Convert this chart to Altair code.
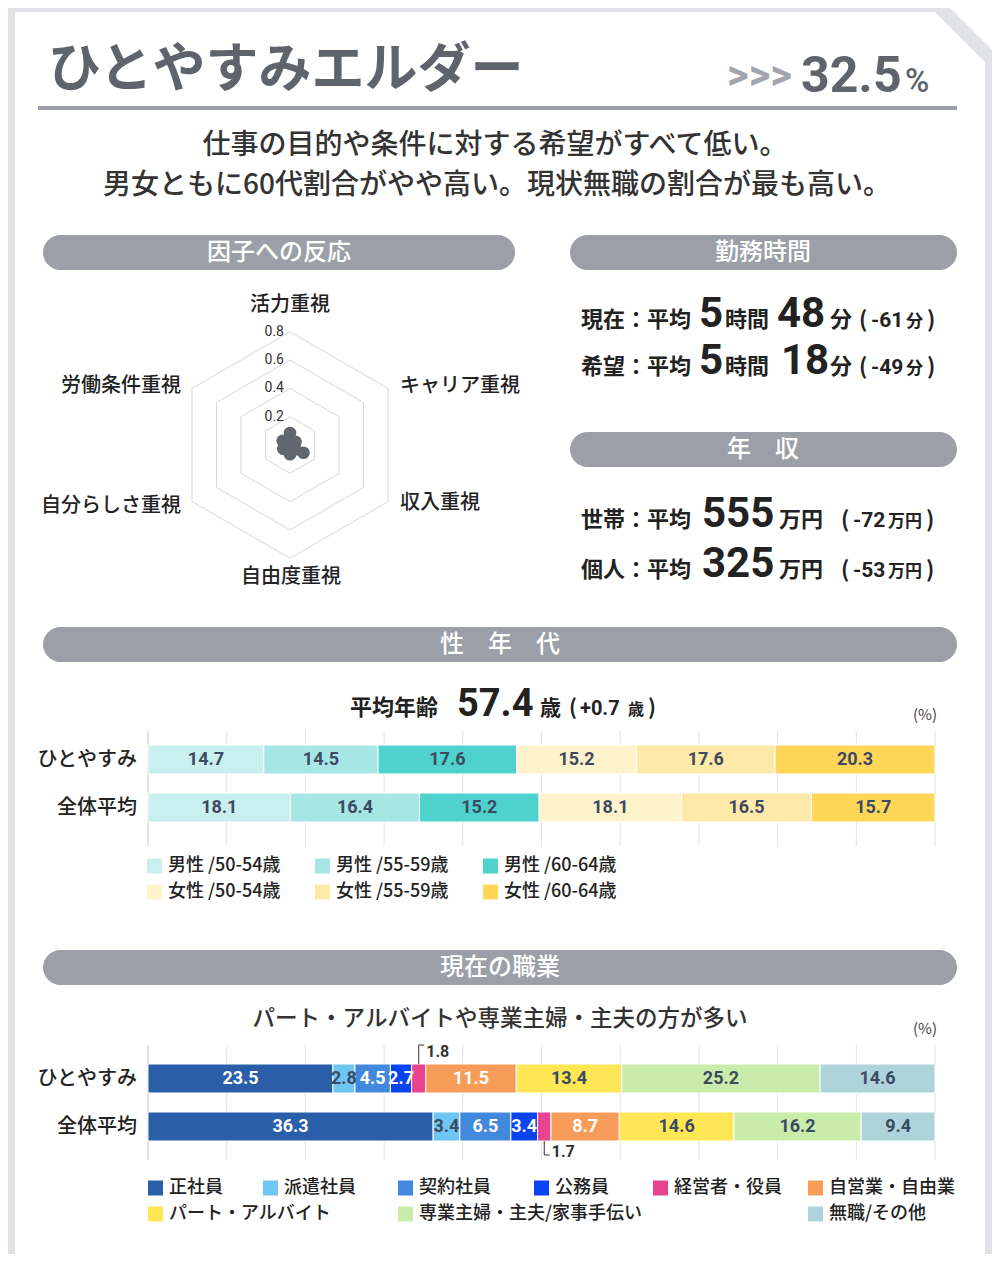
import altair as alt
import pandas as pd

# ---------------- data ----------------
factor_labels = ["活力重視", "キャリア重視", "収入重視", "自由度重視", "自分らしさ重視", "労働条件重視"]
factor_values = [0.085, 0.045, 0.11, 0.065, 0.055, 0.06]
radar_ticks = [0.2, 0.4, 0.6, 0.8]

rows = ["ひとやすみ", "全体平均"]

age_groups = ["男性 /50-54歳", "男性 /55-59歳", "男性 /60-64歳",
              "女性 /50-54歳", "女性 /55-59歳", "女性 /60-64歳"]
age_hito = [14.7, 14.5, 17.6, 15.2, 17.6, 20.3]
age_all = [18.1, 16.4, 15.2, 18.1, 16.5, 15.7]

jobs = ["正社員", "派遣社員", "契約社員", "公務員", "経営者・役員", "自営業・自由業",
        "パート・アルバイト", "専業主婦・主夫/家事手伝い", "無職/その他"]
job_hito = [23.5, 2.8, 4.5, 2.7, 1.8, 11.5, 13.4, 25.2, 14.6]
job_all = [36.3, 3.4, 6.5, 3.4, 1.7, 8.7, 14.6, 16.2, 9.4]

pct_ticks = [0.0, 0.1, 0.2, 0.3, 0.4, 0.5, 0.6, 0.7, 0.8, 0.9, 1.0]

share = "32.5"
work_now = ("5", "48", "-61")
work_wish = ("5", "18", "-49")
income_household = ("555", "-72")
income_personal = ("325", "-53")
avg_age = ("57.4", "+0.7")

# ---------------- styles ----------------
JP = "Noto Sans CJK JP"
NUM = "Roboto"
FRAME = "#e2e3e6"
PILL = "#9c9fa7"
TITLE_C = "#5f636b"
CHEV_C = "#a2a5ac"
INK = "#222222"
LABEL_DARK = "#3c4a62"
DOT = "#62666e"

age_colors = ["#c9f0ee", "#a6e7e5", "#4fd2ce", "#fff3cc", "#ffe9a8", "#ffd658"]
age_text = [LABEL_DARK] * 6
job_colors = ["#2a5ea9", "#6dc6f3", "#4289dd", "#0a44f0", "#e8438f", "#f89d59",
              "#ffe654", "#c9ecab", "#afd3da"]
job_text = ["white", LABEL_DARK, "white", "white", "white", "white",
            LABEL_DARK, LABEL_DARK, LABEL_DARK]

W, H = 984, 1246
M = 8  # page margin


def px(v):
    return v - M


# scales (ranges are layout positions of each panel)
bar_x = alt.Scale(domain=[0, 1], range=[px(148), px(935)], nice=False, zero=False)
age_y = alt.Scale(domain=rows, range=[px(745), px(822)], paddingInner=0.396, paddingOuter=0)
job_y = alt.Scale(domain=rows, range=[px(1064), px(1141)], paddingInner=0.396, paddingOuter=0)
age_yc = alt.Scale(type="point", domain=rows, range=[px(759.5), px(807.5)], padding=0)
job_yc = alt.Scale(type="point", domain=rows, range=[px(1078.5), px(1126.5)], padding=0)
RX, RY, RR = px(290), px(445), 113.2
radar_x = alt.Scale(domain=[-0.8, 0.8], range=[RX - RR, RX + RR], nice=False, zero=False)
radar_y = alt.Scale(domain=[-0.8, 0.8], range=[RY + RR, RY - RR], nice=False, zero=False)

layers = []

# ---------------- frame / decor ----------------
rects = pd.DataFrame([
    dict(x=0, x2=W, y=0, y2=H, fill=FRAME),
    dict(x=px(15), x2=px(985), y=px(12), y2=H, fill="white"),
    dict(x=px(38), x2=px(957), y=px(106), y2=px(110), fill=PILL),
])
layers.append(alt.Chart(rects).mark_rect().encode(
    x=alt.X("x:Q", scale=None), x2="x2:Q", y=alt.Y("y:Q", scale=None), y2="y2:Q",
    color=alt.Color("fill:N", scale=None)))

corner = pd.DataFrame(dict(x=[px(935), px(985)], y0=[0, 0], y1=[px(12), px(62)]))
layers.append(alt.Chart(corner).mark_area(color=FRAME).encode(
    x=alt.X("x:Q", scale=None), y=alt.Y("y0:Q", scale=None), y2="y1:Q"))
corner2 = pd.DataFrame(dict(x=[942, W], y0=[0, 0], y1=[0, W - 942]))
layers.append(alt.Chart(corner2).mark_area(color="white").encode(
    x=alt.X("x:Q", scale=None), y=alt.Y("y0:Q", scale=None), y2="y1:Q"))

pills = pd.DataFrame([
    dict(x=px(43), x2=px(515), y=px(235), y2=px(270)),
    dict(x=px(570), x2=px(957), y=px(235), y2=px(270)),
    dict(x=px(570), x2=px(957), y=px(432), y2=px(467)),
    dict(x=px(43), x2=px(957), y=px(627), y2=px(662)),
    dict(x=px(43), x2=px(957), y=px(950), y2=px(985)),
])
layers.append(alt.Chart(pills).mark_rect(cornerRadius=17.5, color=PILL).encode(
    x=alt.X("x:Q", scale=None), x2="x2:Q", y=alt.Y("y:Q", scale=None), y2="y2:Q"))

# ---------------- radar ----------------
hex_df = pd.DataFrame([dict(level=l, k=k) for l in radar_ticks for k in range(6)])
layers.append(alt.Chart(hex_df).transform_calculate(
    a="datum.k * PI / 3", hx="datum.level * sin(datum.a)", hy="datum.level * cos(datum.a)"
).mark_line(interpolate="linear-closed", color="#d6d6d6", strokeWidth=1).encode(
    x=alt.X("hx:Q", scale=radar_x, axis=None), y=alt.Y("hy:Q", scale=radar_y, axis=None),
    detail="level:N", order="k:Q"))

tick_df = pd.DataFrame(dict(t=radar_ticks))
layers.append(alt.Chart(tick_df).mark_text(align="right", baseline="middle", font=NUM,
                                           fontSize=14, color="#333333").encode(
    x=alt.value(px(284)), y=alt.Y("t:Q", scale=radar_y, axis=None),
    text=alt.Text("t:Q", format=".1f")))

radar_df = pd.DataFrame(dict(label=factor_labels, value=factor_values, k=list(range(6))))
radar_base = alt.Chart(radar_df).transform_calculate(
    a="datum.k * PI / 3", rx="datum.value * sin(datum.a)", ry="datum.value * cos(datum.a)")
layers.append(radar_base.mark_line(interpolate="linear-closed", color=DOT, fill=DOT,
                                   strokeWidth=4).encode(
    x=alt.X("rx:Q", scale=radar_x, axis=None), y=alt.Y("ry:Q", scale=radar_y, axis=None),
    order="k:Q"))
layers.append(radar_base.mark_circle(size=160, color=DOT, opacity=1).encode(
    x=alt.X("rx:Q", scale=radar_x, axis=None), y=alt.Y("ry:Q", scale=radar_y, axis=None)))


# ---------------- stacked bars ----------------
def stack_df(groups, a, b, tcolors):
    recs = []
    for r, vals in zip(rows, [a, b]):
        for i, (g, v) in enumerate(zip(groups, vals)):
            recs.append(dict(row=r, group=g, value=v, order=i, tcolor=tcolors[i]))
    return pd.DataFrame(recs)


def stacked_layers(df, yscale, ycenter, groups, colors, top, bottom):
    out = []
    grid = pd.DataFrame(dict(t=pct_ticks))
    out.append(alt.Chart(grid).mark_rule(strokeWidth=1).encode(
        x=alt.X("t:Q", scale=bar_x, axis=None),
        y=alt.value(px(top)), y2=alt.value(px(bottom)),
        color=alt.condition("datum.t == 0", alt.value("#c4c4c4"), alt.value("#e2e2e2"))))
    base = alt.Chart(df).transform_stack(
        stack="value", groupby=["row"], as_=["v0", "v1"], offset="normalize",
        sort=[alt.SortField("order", order="ascending")]
    ).transform_calculate(mid="(datum.v0 + datum.v1) / 2")
    out.append(base.mark_rect(stroke="white", strokeWidth=1).encode(
        x=alt.X("v0:Q", scale=bar_x, axis=None), x2="v1:Q",
        y=alt.Y("row:N", scale=yscale, axis=None),
        color=alt.Color("group:N", scale=alt.Scale(domain=groups, range=colors), legend=None)))
    out.append(base.transform_filter("datum.value >= 2").mark_text(
        font=NUM, fontWeight="bold", fontSize=18, baseline="middle").encode(
        x=alt.X("mid:Q", scale=bar_x, axis=None),
        y=alt.Y("row:N", scale=ycenter, axis=None),
        text=alt.Text("value:Q", format=".1f"),
        color=alt.Color("tcolor:N", scale=None)))
    out.append(alt.Chart(pd.DataFrame(dict(row=rows))).mark_text(
        align="right", baseline="middle", font=JP, fontSize=20, fontWeight=500, color=INK).encode(
        x=alt.value(px(137)), y=alt.Y("row:N", scale=ycenter, axis=None), text="row:N"))
    return out, base


age_df = stack_df(age_groups, age_hito, age_all, age_text)
age_layers, _ = stacked_layers(age_df, age_y, age_yc, age_groups, age_colors, 731, 846)
layers += age_layers

job_df = stack_df(jobs, job_hito, job_all, job_text)
job_layers, job_base = stacked_layers(job_df, job_y, job_yc, jobs, job_colors, 1045, 1160)
layers += job_layers

# leaders for small segments
LEAD = "#333333"
for rowname, ybar, ystub, ytext in [(rows[0], 1064, 1045, 1052), (rows[1], 1141, 1155, 1152)]:
    lb = job_base.transform_filter(
        f"datum.value < 2 && datum.row == '{rowname}'").transform_calculate(
        stub="datum.mid + 0.007")
    layers.append(lb.mark_rule(color=LEAD, strokeWidth=1).encode(
        x=alt.X("mid:Q", scale=bar_x, axis=None), y=alt.value(px(ystub)), y2=alt.value(px(ybar))))
    layers.append(lb.mark_rule(color=LEAD, strokeWidth=1).encode(
        x=alt.X("mid:Q", scale=bar_x, axis=None), x2="stub:Q", y=alt.value(px(ystub))))
    layers.append(lb.mark_text(align="left", baseline="middle", dx=2, font=NUM,
                               fontWeight="bold", fontSize=16, color=LEAD).encode(
        x=alt.X("stub:Q", scale=bar_x, axis=None), y=alt.value(px(ytext)),
        text=alt.Text("value:Q", format=".1f")))

# custom legends
age_leg_x = [147, 315, 483, 147, 315, 483]
age_leg_y = [866, 866, 866, 892, 892, 892]
job_leg_x = [148, 263, 398, 534, 653, 808, 148, 398, 808]
job_leg_y = [1188] * 6 + [1214] * 3
for groups, colors, lx, ly in [(age_groups, age_colors, age_leg_x, age_leg_y),
                               (jobs, job_colors, job_leg_x, job_leg_y)]:
    ldf = pd.DataFrame(dict(group=groups, sx=[px(v) + 7.5 for v in lx],
                            tx=[px(v) + 21 for v in lx], sy=[px(v) for v in ly]))
    layers.append(alt.Chart(ldf).mark_square(size=225, opacity=1).encode(
        x=alt.X("sx:Q", scale=None), y=alt.Y("sy:Q", scale=None),
        color=alt.Color("group:N", scale=alt.Scale(domain=groups, range=colors), legend=None)))
    layers.append(alt.Chart(ldf).mark_text(align="left", baseline="middle", font=JP,
                                           fontSize=18, fontWeight=500, color=INK).encode(
        x=alt.X("tx:Q", scale=None), y=alt.Y("sy:Q", scale=None), text="group:N"))

# ---------------- texts ----------------
texts = []


def T(text, x, y, size, color=INK, align="left", weight=400, font=JP, baseline="middle"):
    texts.append(dict(text=text, x=px(x), y=px(y), size=size, color=color, align=align,
                      weight=weight, font=font, baseline=baseline))


T("ひとやすみエルダー", 48, 71, 53, TITLE_C, weight=700)
T(">>>", 727, 76, 42, CHEV_C, weight=700, font=NUM)
T(share, 801, 92, 50, TITLE_C, weight=700, font=NUM, baseline="alphabetic")
T("%", 905, 92, 33, TITLE_C, weight=500, font=NUM, baseline="alphabetic")
T("仕事の目的や条件に対する希望がすべて低い。", 495, 146, 28, "#333333", align="center", weight=500)
T("男女ともに60代割合がやや高い。現状無職の割合が最も高い。", 497, 186, 28, "#333333", align="center", weight=500)

for s, x, y in [("因子への反応", 279, 253), ("勤務時間", 763, 253), ("年　収", 763, 450),
                ("性　年　代", 500, 645), ("現在の職業", 500, 968)]:
    T(s, x, y, 24, "white", align="center", weight=500)

for lab, x, y, al in zip(factor_labels,
                         [290, 400, 400, 291, 181, 181],
                         [305, 386, 503, 577, 506, 386],
                         ["center", "left", "left", "center", "right", "right"]):
    T(lab, x, y, 20, INK, align=al, weight=500)

# work hours
for head, vals, yb, mx in [("現在：平均", work_now, 327, 777), ("希望：平均", work_wish, 374, 781)]:
    T(head, 581, yb, 22, weight=700, baseline="alphabetic")
    T(vals[0], 699, yb, 42, weight=700, font=NUM, baseline="alphabetic")
    T("時間", 725, yb, 22, weight=700, baseline="alphabetic")
    T(vals[1], mx, yb, 42, weight=700, font=NUM, baseline="alphabetic")
    T("分", 830, yb, 22, weight=700, baseline="alphabetic")
    T("(", 859, yb, 22, weight=700, baseline="alphabetic")
    T(vals[2], 871, yb, 21, weight=700, font=NUM, baseline="alphabetic")
    T("分", 906, yb, 17, weight=700, baseline="alphabetic")
    T(")", 927, yb, 22, weight=700, baseline="alphabetic")

# income
for head, vals, yb in [("世帯：平均", income_household, 527), ("個人：平均", income_personal, 577)]:
    T(head, 581, yb, 22, weight=700, baseline="alphabetic")
    T(vals[0], 702, yb, 42, weight=700, font=NUM, baseline="alphabetic")
    T("万円", 779, yb, 22, weight=700, baseline="alphabetic")
    T("(", 841, yb, 22, weight=700, baseline="alphabetic")
    T(vals[1], 853, yb, 21, weight=700, font=NUM, baseline="alphabetic")
    T("万円", 888, yb, 17, weight=700, baseline="alphabetic")
    T(")", 926, yb, 22, weight=700, baseline="alphabetic")

# average age
T("平均年齢", 350, 715, 22, weight=700, baseline="alphabetic")
T(avg_age[0], 457, 716, 38, weight=700, font=NUM, baseline="alphabetic")
T("歳", 540, 715, 21, weight=700, baseline="alphabetic")
T("(", 569, 715, 21, weight=700, baseline="alphabetic")
T(avg_age[1], 580, 715, 20, weight=700, font=NUM, baseline="alphabetic")
T("歳", 628, 715, 16, weight=700, baseline="alphabetic")
T(")", 648, 715, 21, weight=700, baseline="alphabetic")
T("(%)", 925, 715, 15, "#444444", align="center")

T("パート・アルバイトや専業主婦・主夫の方が多い", 500, 1019, 22.5, "#333333", align="center", weight=500)
T("(%)", 925, 1029, 15, "#444444", align="center")

tdf = pd.DataFrame(texts)
for (al, wt, fn, bl), g in tdf.groupby(["align", "weight", "font", "baseline"]):
    layers.append(alt.Chart(g.reset_index(drop=True)).mark_text(
        align=al, baseline=bl, font=fn, fontWeight=int(wt)).encode(
        x=alt.X("x:Q", scale=None), y=alt.Y("y:Q", scale=None), text="text:N",
        size=alt.Size("size:Q", scale=None), color=alt.Color("color:N", scale=None)))

chart = alt.layer(*layers).resolve_scale(
    x="independent", y="independent", color="independent", size="independent"
).properties(
    width=W, height=H, padding=0, autosize=alt.AutoSizeParams(type="none")
).configure_view(stroke=None).configure(background="white")

chart.save("out.html", embed_options={"renderer": "svg", "actions": False})
